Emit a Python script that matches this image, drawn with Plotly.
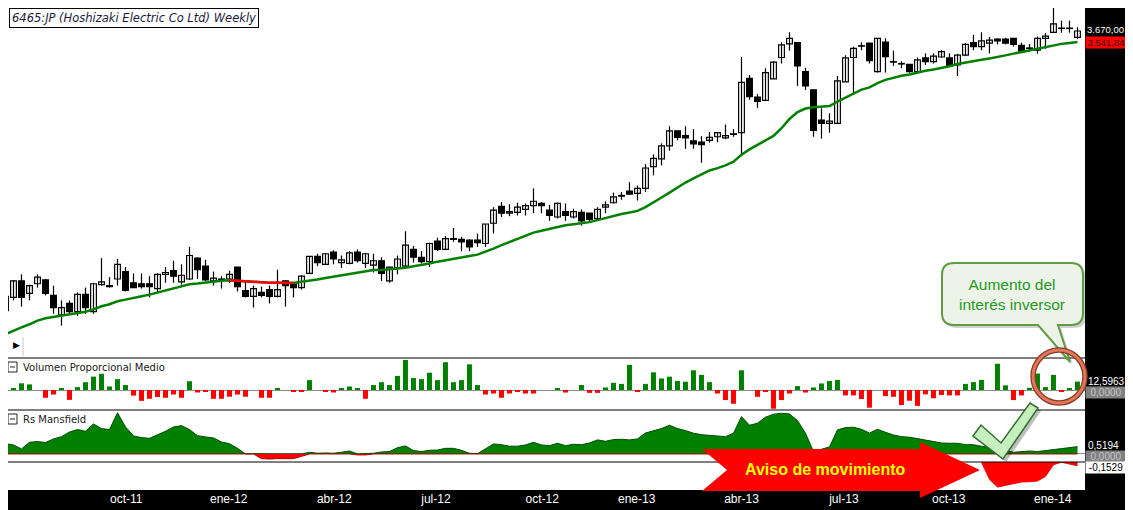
"""
Weekly chart of 6465:JP (Hoshizaki Electric) with 30-week average,
proportional volume and Rs Mansfield panels, annotated.
"""

import plotly.graph_objects as go
from plotly.subplots import make_subplots

# ---- data ------------------------------------------------------------------
open_ = [1490, 1555, 1640, 1575, 1625, 1645, 1565, 1470, 1525, 1485,
         1570, 1485, 1620, 1615, 1650, 1690, 1630, 1625, 1625, 1600,
         1675, 1695, 1635, 1650, 1765, 1720, 1640, 1650, 1650, 1715,
         1590, 1560, 1580, 1595, 1560, 1640, 1630, 1605, 1680, 1775,
         1730, 1800, 1740, 1735, 1800, 1735, 1725, 1750, 1640, 1710,
         1720, 1815, 1770, 1745, 1865, 1815, 1875, 1875, 1870, 1870,
         1850, 1975, 2085, 2040, 2045, 2065, 2090, 2105, 2060, 2015,
         2050, 2015, 2045, 2040, 2005, 2080, 2110, 2155, 2190, 2175,
         2210, 2370, 2430, 2535, 2660, 2620, 2575, 2565, 2580, 2610,
         2600, 2630, 2645, 3150, 2965, 2935, 3145, 3370, 3520, 3535,
         3220, 3035, 2755, 2725, 2725, 3115, 3370, 3495, 3530, 3220,
         3540, 3320, 3300, 3295, 3220, 3365, 3325, 3375, 3365, 3290,
         3395, 3535, 3490, 3530, 3575, 3575, 3585, 3505, 3470, 3450,
         3585, 3655, 3705, 3705, 3595]
high = [1590, 1645, 1675, 1620, 1675, 1650, 1615, 1540, 1540, 1580,
        1605, 1630, 1765, 1660, 1760, 1715, 1680, 1680, 1665, 1680,
        1715, 1750, 1730, 1830, 1770, 1755, 1690, 1665, 1695, 1715,
        1635, 1615, 1610, 1615, 1700, 1645, 1635, 1670, 1775, 1790,
        1790, 1810, 1780, 1805, 1815, 1795, 1790, 1770, 1715, 1780,
        1925, 1835, 1805, 1855, 1885, 1895, 1945, 1890, 1875, 1910,
        1970, 2080, 2115, 2100, 2110, 2105, 2210, 2115, 2095, 2110,
        2105, 2070, 2065, 2040, 2080, 2120, 2180, 2185, 2255, 2230,
        2390, 2465, 2555, 2700, 2665, 2700, 2675, 2615, 2650, 2645,
        2715, 2675, 3375, 3185, 2995, 3255, 3330, 3540, 3655, 3535,
        3260, 3040, 2860, 2815, 3175, 3395, 3490, 3540, 3530, 3585,
        3585, 3445, 3330, 3300, 3370, 3415, 3415, 3450, 3415, 3410,
        3530, 3625, 3655, 3600, 3585, 3590, 3590, 3535, 3520, 3605,
        3645, 3990, 3795, 3795, 3715]
low = [1480, 1540, 1510, 1540, 1605, 1565, 1475, 1420, 1475, 1465,
       1475, 1475, 1615, 1605, 1615, 1585, 1605, 1600, 1555, 1580,
       1630, 1630, 1620, 1645, 1650, 1640, 1615, 1600, 1630, 1585,
       1555, 1505, 1555, 1525, 1555, 1510, 1555, 1595, 1680, 1720,
       1730, 1730, 1710, 1730, 1740, 1710, 1685, 1640, 1630, 1675,
       1720, 1740, 1735, 1715, 1805, 1815, 1860, 1805, 1805, 1830,
       1830, 1910, 2015, 2020, 2025, 2025, 2040, 2040, 1990, 2005,
       1990, 2005, 1960, 1985, 2005, 2040, 2105, 2130, 2165, 2125,
       2185, 2305, 2380, 2495, 2580, 2510, 2510, 2400, 2560, 2565,
       2590, 2610, 2455, 2940, 2865, 2930, 3145, 3305, 3445, 3075,
       3035, 2610, 2595, 2645, 2720, 3115, 3000, 3450, 3305, 3210,
       3210, 3280, 3255, 3210, 3215, 3290, 3305, 3370, 3275, 3175,
       3390, 3450, 3450, 3415, 3515, 3515, 3490, 3425, 3435, 3410,
       3465, 3650, 3650, 3650, 3575]
close = [1560, 1640, 1555, 1615, 1660, 1575, 1505, 1505, 1485, 1570,
         1505, 1625, 1635, 1610, 1730, 1590, 1605, 1610, 1610, 1675,
         1685, 1665, 1670, 1780, 1700, 1645, 1655, 1645, 1675, 1610,
         1560, 1600, 1565, 1560, 1595, 1615, 1605, 1665, 1775, 1740,
         1790, 1760, 1755, 1795, 1750, 1790, 1750, 1680, 1715, 1760,
         1840, 1770, 1745, 1850, 1815, 1880, 1880, 1860, 1830, 1855,
         1970, 2060, 2040, 2050, 2080, 2090, 2120, 2090, 2025, 2105,
         2025, 2050, 1990, 2000, 2065, 2095, 2150, 2160, 2170, 2210,
         2360, 2435, 2535, 2660, 2605, 2600, 2550, 2545, 2605, 2645,
         2620, 2635, 3110, 2970, 2925, 3210, 3320, 3510, 3585, 3280,
         3075, 2665, 2725, 2745, 3125, 3365, 3470, 3500, 3335, 3585,
         3380, 3325, 3305, 3220, 3345, 3325, 3385, 3435, 3280, 3395,
         3515, 3490, 3555, 3565, 3555, 3530, 3515, 3435, 3475, 3585,
         3610, 3755, 3700, 3700, 3670]
ma30 = [1381, 1398, 1412, 1426, 1443, 1454, 1460, 1465, 1470, 1478,
        1485, 1496, 1511, 1521, 1536, 1544, 1551, 1561, 1569, 1579,
        1591, 1601, 1610, 1622, 1626, 1632, 1637, 1641, 1644, 1641,
        1640, 1638, 1632, 1630, 1630, 1630, 1629, 1636, 1644, 1648,
        1655, 1662, 1669, 1676, 1684, 1692, 1698, 1699, 1702, 1705,
        1711, 1719, 1726, 1735, 1745, 1754, 1761, 1768, 1777, 1785,
        1801, 1820, 1840, 1859, 1880, 1900, 1916, 1928, 1940, 1952,
        1962, 1969, 1975, 1982, 1995, 2009, 2022, 2035, 2044, 2055,
        2080, 2110, 2146, 2180, 2217, 2252, 2282, 2314, 2341, 2359,
        2380, 2409, 2463, 2506, 2544, 2578, 2617, 2683, 2764, 2826,
        2859, 2870, 2872, 2881, 2924, 2964, 3001, 3038, 3060, 3103,
        3135, 3159, 3177, 3191, 3212, 3228, 3242, 3257, 3277, 3300,
        3317, 3331, 3345, 3360, 3374, 3393, 3412, 3430, 3451, 3472,
        3490, 3507, 3521, 3531, 3541.84]
vol_prop = [5.3, 2.1, 10.1, 8.4, 0, -11.7, -6.8, 2.1, -14.8, 4.3,
            11.7, 20.1, 24.3, 5.3, 16.3, 7.4, -8.4, -16.3, -13.2, -10.5,
            -11.7, -6.8, -11.7, 13.2, -3.7, -2.7, -13.2, -13.2, -10.1, -6.8,
            -10.1, 0, -11.7, -11.7, 3.1, 0, -2.1, -2.1, 14.8, 0,
            -2.1, -3.7, 2.1, 5.3, 2.1, -13.2, 7.4, 11.7, 7.4, 21.2,
            45.0, 17.9, 16.3, 25.9, 14.8, 41.7, 11.7, 14.8, 38.5, 7.4,
            -6.8, -5.3, -11.7, -5.3, -2.1, -5.3, -5.3, 0, 0, 2.1,
            -3.8, 0, 7.5, -4.3, -4.3, 3.8, 10.8, 9.2, 37.7, -1.6,
            9.2, 26.5, 17.3, 20.0, 13.5, 12.4, 29.6, 22.6, 11.8, -5.3,
            -15.1, -20.6, 29.6, 0, -10.2, -2.2, -28.1, -15.1, -5.3, 5.9,
            -3.8, 3.8, 9.8, 13.5, 15.1, -8.1, -8.1, -13.5, -26.5, 0,
            -9.2, -10.2, -22.6, -16.1, -23.8, -6.5, -12.4, -7.5, -8.1, -8.1,
            9.2, 11.8, 15.1, 0, 39.4, 7.0, -15.1, -8.1, 3.3, 24.7,
            4.3, 22.6, -1.6, 2.5, 12.5963]
rs_mansfield = [0.73, 0.64, 0.36, 0.83, 0.88, 0.81, 1.07, 1.23, 1.56, 1.73,
                1.61, 2.13, 1.80, 1.73, 2.92, 1.92, 1.28, 1.16, 1.11, 1.35,
                1.61, 1.92, 2.01, 1.73, 1.30, 1.21, 1.14, 0.85, 0.73, 0.40,
                -0.05, 0.02, -0.33, -0.36, -0.33, -0.31, -0.33, -0.17, 0.12, 0.05,
                0.07, 0.05, 0.12, 0.21, -0.07, -0.07, 0.05, 0.14, 0.17, 0.45,
                0.57, 0.24, 0.17, 0.26, 0.28, 0.40, 0.40, 0.26, 0.05, 0.02,
                0.36, 0.71, 0.66, 0.55, 0.55, 0.64, 0.83, 0.64, 0.59, 0.76,
                0.59, 0.69, 0.66, 0.78, 1.00, 0.90, 1.02, 1.04, 1.00, 1.07,
                1.49, 1.64, 1.80, 2.04, 1.80, 1.66, 1.47, 1.37, 1.33, 1.28,
                1.23, 1.47, 2.65, 2.04, 2.18, 2.61, 2.82, 2.89, 2.84, 2.37,
                1.47, 0.17, 0.31, 0.50, 1.71, 1.87, 1.90, 1.75, 1.49, 1.75,
                1.54, 1.35, 1.23, 1.19, 1.09, 0.97, 0.85, 0.78, 0.76, 0.76,
                0.66, 0.66, 0.55, 0.47, 0.33, 0.26, 0.12, 0.14, 0.21, 0.17,
                0.26, 0.31, 0.38, 0.47, 0.5194]
# lower panel: only the last weeks are drawn
rs_lower = [None] * 122 + [0, -0.71, -1.03, -0.96, -0.87, -0.82, -0.81,
                           -0.78, -0.59, -0.11, -0.01, -0.08, -0.1529]

tick_weeks = [0.8, 15.1, 27.9, 41.1, 53.8, 67.1, 78.9, 92, 104.8, 117.9, 130.9]
tick_text = ["jul-11", "oct-11", "ene-12", "abr-12", "jul-12", "oct-12",
             "ene-13", "abr-13", "jul-13", "oct-13", "ene-14"]

weeks = list(range(len(close)))

# ---- pixel helpers (screen pixels; the page body adds an 8px offset) ----------
L_PX, R_PX, T_PX, B_PX = 8, 1085, 8, 490


def px(x, y):
    return (x - L_PX) / (R_PX - L_PX), (B_PX - y) / (B_PX - T_PX)


def dom(top, bottom):
    return [(B_PX - bottom) / (B_PX - T_PX), (B_PX - top) / (B_PX - T_PX)]


def pt(x, y):
    xp, yp = px(x, y)
    return f"{xp:.5f},{yp:.5f}"


def path(points):
    return "M" + " L".join(pt(x, y) for x, y in points) + " Z"


def rounded_callout(x0, y0, x1, y1, r, tail_l, tail_r, tip):
    return (f"M{pt(x0 + r, y0)} L{pt(x1 - r, y0)} Q{pt(x1, y0)} {pt(x1, y0 + r)} "
            f"L{pt(x1, y1 - r)} Q{pt(x1, y1)} {pt(x1 - r, y1)} L{pt(tail_r, y1)} "
            f"L{pt(*tip)} L{pt(tail_l, y1)} L{pt(x0 + r, y1)} Q{pt(x0, y1)} {pt(x0, y1 - r)} "
            f"L{pt(x0, y0 + r)} Q{pt(x0, y0)} {pt(x0 + r, y0)} Z")


# ---- figure -------------------------------------------------------------------
fig = make_subplots(rows=4, cols=1, shared_xaxes=True, vertical_spacing=0)

# candle wicks
wick_x, wick_y = [], []
for i in weeks:
    wick_x += [i, i, None]
    wick_y += [low[i], high[i], None]
fig.add_trace(go.Scatter(x=wick_x, y=wick_y, mode="lines",
                         line=dict(color="black", width=1.2), hoverinfo="skip"), row=1, col=1)

# candle bodies
body_base = [min(o, c) for o, c in zip(open_, close)]
body_len = [abs(c - o) for o, c in zip(open_, close)]
fig.add_trace(go.Bar(x=weeks, y=body_len, base=body_base, width=0.72,
                     marker=dict(color=["white" if c >= o else "black" for o, c in zip(open_, close)],
                                 line=dict(color="black", width=1.2))), row=1, col=1)

fig.add_trace(go.Scatter(x=weeks, y=ma30, mode="lines",
                         line=dict(color="#008000", width=2.5)), row=1, col=1)

# falling stretch of the average is drawn red
ma_red = [m if (i + 1 < len(ma30) and ma30[i + 1] <= m) or (i > 0 and m <= ma30[i - 1])
          else None for i, m in enumerate(ma30)]
fig.add_trace(go.Scatter(x=weeks, y=ma_red, mode="lines",
                         line=dict(color="#ff0000", width=2.5)), row=1, col=1)

fig.add_trace(go.Bar(x=weeks, y=vol_prop, width=0.62,
                     marker=dict(color=["#008000" if v >= 0 else "#ff0000" for v in vol_prop],
                                 line=dict(width=0))), row=2, col=1)

rs_pos = [max(v, 0) for v in rs_mansfield]
rs_neg = [min(v, 0) for v in rs_mansfield]
fig.add_trace(go.Scatter(x=weeks, y=rs_pos, mode="lines", fill="tozeroy",
                         fillcolor="#008000", line=dict(color="#004d00", width=1)), row=3, col=1)
fig.add_trace(go.Scatter(x=weeks, y=rs_neg, mode="lines", fill="tozeroy",
                         fillcolor="#ff0000", line=dict(color="#b00000", width=1)), row=3, col=1)

fig.add_trace(go.Scatter(x=weeks, y=rs_lower, mode="lines", fill="tozeroy",
                         fillcolor="#ff0000", line=dict(color="#ff0000", width=1)), row=4, col=1)

fig.update_xaxes(range=[0.3125, 134.94], showgrid=False, zeroline=False,
                 showticklabels=False, ticks="")
fig.update_xaxes(showticklabels=True, tickvals=tick_weeks, ticktext=tick_text,
                 tickfont=dict(family="Liberation Sans", size=12, color="white"),
                 row=4, col=1)

fig.update_layout(
    width=1117, height=502,
    margin=dict(l=0, r=40, t=0, b=20),
    paper_bgcolor="white", plot_bgcolor="white",
    showlegend=False, barmode="overlay",
    yaxis=dict(type="log", range=[3.1083, 3.5969], domain=dom(8, 357),
               showticklabels=False, showgrid=False, zeroline=False),
    yaxis2=dict(range=[-30, 48], domain=dom(358, 410), showticklabels=False,
                showgrid=False, zeroline=True, zerolinecolor="#8c8c8c", zerolinewidth=1),
    yaxis3=dict(range=[-0.57, 3.12], domain=dom(410, 462), showticklabels=False,
                showgrid=False, zeroline=True, zerolinecolor="#8c8c8c", zerolinewidth=1),
    yaxis4=dict(range=[-1.15, 0], domain=dom(462, 490), showticklabels=False,
                showgrid=False, zeroline=False),
)

shapes = []
# black frame bands (right value strip and bottom time strip)
x0, _ = px(1085, 0)
x1, _ = px(1140, 0)
_, yb = px(0, 515)
_, yt = px(0, 8)
shapes.append(dict(type="rect", xref="paper", yref="paper", x0=x0, x1=x1, y0=yb, y1=yt,
                   fillcolor="black", line=dict(width=0), layer="below"))
xl, _ = px(0, 0)
_, y490 = px(0, 490)
shapes.append(dict(type="rect", xref="paper", yref="paper", x0=xl, x1=x1, y0=yb, y1=y490,
                   fillcolor="black", line=dict(width=0), layer="below"))
# panel separators
for ysep in (358, 410, 462):
    _, yy = px(0, ysep)
    shapes.append(dict(type="line", xref="paper", yref="paper", x0=0, x1=1, y0=yy, y1=yy,
                       line=dict(color="black", width=1)))

# panel title boxes with a minus sign
for ytop in (362, 414):
    bx0, by0 = px(8, ytop)
    bx1, by1 = px(17, ytop + 10)
    shapes.append(dict(type="rect", xref="paper", yref="paper", x0=bx0, x1=bx1, y0=by1, y1=by0,
                       fillcolor="white", line=dict(color="#222222", width=1)))
    mx0, my = px(10, ytop + 5)
    mx1, _ = px(15, 0)
    shapes.append(dict(type="line", xref="paper", yref="paper", x0=mx0, x1=mx1, y0=my, y1=my,
                       line=dict(color="#222222", width=1)))

# small grey divider next to the play icon
gx, gy0 = px(23, 337)
_, gy1 = px(0, 356)
shapes.append(dict(type="line", xref="paper", yref="paper", x0=gx, x1=gx, y0=gy0, y1=gy1,
                   line=dict(color="#c8c8c8", width=1)))

# callout "Aumento del interes inversor"
shapes.append(dict(type="path", xref="paper", yref="paper",
                   path=rounded_callout(945, 266, 1086, 328, 12, 1041, 1061, (1073, 365)),
                   fillcolor="rgba(0,0,0,0.18)", line=dict(width=0)))
shapes.append(dict(type="path", xref="paper", yref="paper",
                   path=rounded_callout(942, 263, 1083, 325, 12, 1038, 1058, (1070, 362)),
                   fillcolor="#eef3ea", line=dict(color="#5e9c44", width=2)))

# hand-drawn circle around the last volume bars
cx0, cy0 = px(1033, 350)
cx1, cy1 = px(1085, 403)
shapes.append(dict(type="circle", xref="paper", yref="paper", x0=cx0, x1=cx1, y0=cy1, y1=cy0,
                   line=dict(color="#8a3b26", width=5.5)))
shapes.append(dict(type="circle", xref="paper", yref="paper", x0=cx0, x1=cx1, y0=cy1, y1=cy0,
                   line=dict(color="#e0775a", width=3)))

# check mark
check = [(973, 436), (981, 425), (1001, 443), (1030, 403), (1038, 408), (1003, 459)]
shapes.append(dict(type="path", xref="paper", yref="paper",
                   path=path([(x + 3, y + 3) for x, y in check]),
                   fillcolor="rgba(0,0,0,0.25)", line=dict(width=0)))
shapes.append(dict(type="path", xref="paper", yref="paper", path=path(check),
                   fillcolor="#c6efbd", line=dict(color="#2f6f2f", width=1.5)))

# big red arrow
arrow = [(702, 449), (920, 449), (920, 442), (980, 470), (920, 498), (920, 491),
         (702, 491), (727, 470)]
shapes.append(dict(type="path", xref="paper", yref="paper", path=path(arrow),
                   fillcolor="#ff0000", line=dict(width=0)))

fig.update_layout(shapes=shapes)


def ann(x, y, text, xanchor="left", **kw):
    xp, yp = px(x, y)
    fig.add_annotation(xref="paper", yref="paper", x=xp, y=yp, text=text, showarrow=False,
                       xanchor=xanchor, yanchor="middle", **kw)


ann(9, 17.5, "6465:JP (Hoshizaki Electric Co Ltd) Weekly",
    font=dict(family="DejaVu Sans", size=11.5, color="#1a1a3a", style="italic"),
    bgcolor="white", bordercolor="black", borderwidth=1, borderpad=2)
ann(16, 344, "▶", xanchor="center", font=dict(size=9, color="black"))
ann(21, 367, "Volumen Proporcional Medio",
    font=dict(family="DejaVu Sans", size=10, color="#202020"))
ann(21, 419, "Rs Mansfield",
    font=dict(family="DejaVu Sans", size=10, color="#202020"))

# last-value labels on the right strip
lab = dict(family="Liberation Sans", size=10)
ann(1085, 30, "3.670,00", font=dict(lab, size=9.5, color="white"))
ann(1085, 42.5, "3.541,84", font=dict(lab, size=9.5, color="#3a0000"),
    bgcolor="#ff0000", borderpad=0, width=40)
ann(1085, 392, "0,0000", font=dict(lab, color="#c4c4c4"),
    bgcolor="#808080", borderpad=0, width=40)
ann(1086, 381, "12,5963", font=dict(lab, color="white"))
ann(1085, 456.5, "0,0000", font=dict(lab, color="#c4c4c4"),
    bgcolor="#808080", borderpad=0, width=40)
ann(1086, 445, "0,5194", font=dict(lab, color="white"))
ann(1085, 467.5, "-0,1529", font=dict(lab, color="black"),
    bgcolor="white", borderpad=0, width=40)

ann(1012, 294, "Aumento del<br>interés inversor", xanchor="center",
    font=dict(family="Liberation Sans", size=15.5, color="#1f9a1f"))
ann(825, 469, "<b>Aviso de movimiento</b>", xanchor="center",
    font=dict(family="Liberation Sans", size=16, color="#ffff00"))

fig.write_html("out.html")
